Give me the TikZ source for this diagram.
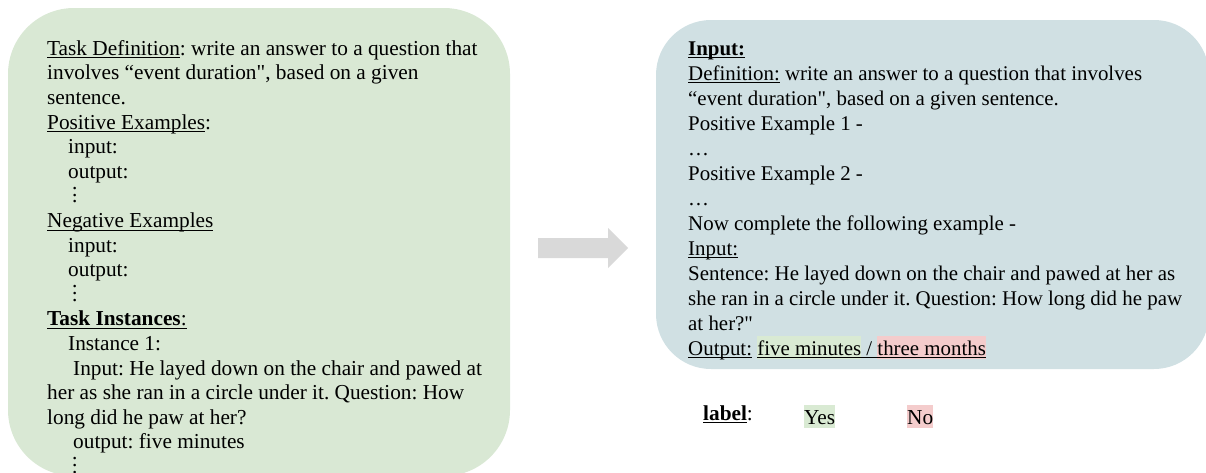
\documentclass[tikz,border=0pt]{standalone}
\usepackage{fontspec}
\setmainfont{Liberation Serif}[Ligatures=TeXOff]
\definecolor{boxgreen}{HTML}{D9E8D4}
\definecolor{boxblue}{HTML}{D0E0E3}
\definecolor{hlgreen}{HTML}{D9EAD3}
\definecolor{hlred}{HTML}{F4CCCC}
\definecolor{arrowgray}{HTML}{D9D9D9}
\frenchspacing

% underline at a fixed depth, drawn over the text
\newsavebox\ulbox
\newcommand\undl[1]{\sbox\ulbox{#1}\usebox\ulbox\llap{\rule[-3pt]{\wd\ulbox}{0.9pt}}}
% text highlight
\newcommand\hl[2]{{\setlength\fboxsep{0pt}\colorbox{#1}{\rule[-4pt]{0pt}{23pt}#2}}}
% vertical dots
\newcommand\vdts{\hspace*{25pt}\vbox{\baselineskip6.8pt\lineskiplimit0pt\hbox{.}\hbox{.}\hbox{.}}}

\begin{document}
\begin{tikzpicture}[x=1pt, y=-1pt,
    txt/.style={inner sep=0pt, align=left, font=\fontsize{21.3}{24.6}\selectfont}]

    \useasboundingbox (0,0) rectangle (1206,472);

    % Left box: task specification
    \fill[boxgreen, rounded corners=66pt] (8,8) rectangle (510,476);
    \node[txt, anchor=north west] (spec) at (47,37.8) {\strut\undl{Task Definition}: write an answer to a question that\\
involves “event duration", based on a given\\
sentence.\\
\undl{Positive Examples}:\\
\hspace*{21pt}input:\\
\hspace*{21pt}output:\\
\vdts\\
\undl{Negative Examples}\\
\hspace*{21pt}input:\\
\hspace*{21pt}output:\\
\vdts\\
\undl{\textbf{Task Instances}:}\\
\hspace*{21pt}Instance 1:\\
\hspace*{26pt}Input: He layed down on the chair and pawed at\\
her as she ran in a circle under it. Question: How\\
long did he paw at her?\\
\hspace*{26pt}output: five minutes\\
\vdts};

    % Block arrow
    \fill[arrowgray] (538,238) -- (608,238) -- (608,228) -- (628,248)
        -- (608,268) -- (608,258) -- (538,258) -- cycle;

    % Right box: model input
    \fill[boxblue, rounded corners=55pt] (656,20) rectangle (1209,369);
    \node[txt, anchor=north west, font=\fontsize{20.9}{25}\selectfont] (prompt) at (688,37.5) {\strut\undl{\textbf{Input:}}\\
\undl{Definition:} write an answer to a question that involves\\
“event duration", based on a given sentence.\\
Positive Example 1 -\\
…\\
Positive Example 2 -\\
…\\
Now complete the following example -\\
\undl{Input:}\\
Sentence: He layed down on the chair and pawed at her as\\
she ran in a circle under it. Question: How long did he paw\\
at her?"\\
\undl{Output:} \undl{\hl{hlgreen}{five minutes} / \hl{hlred}{three months}}};

    % Labels
    \node[txt, anchor=base west] (label) at (703,420) {\undl{\textbf{label}}:};
    \node[txt, anchor=base west] (yes) at (804,424) {\hl{hlgreen}{Yes}};
    \node[txt, anchor=base west] (no) at (907,424) {\hl{hlred}{No}};

\end{tikzpicture}
\end{document}
